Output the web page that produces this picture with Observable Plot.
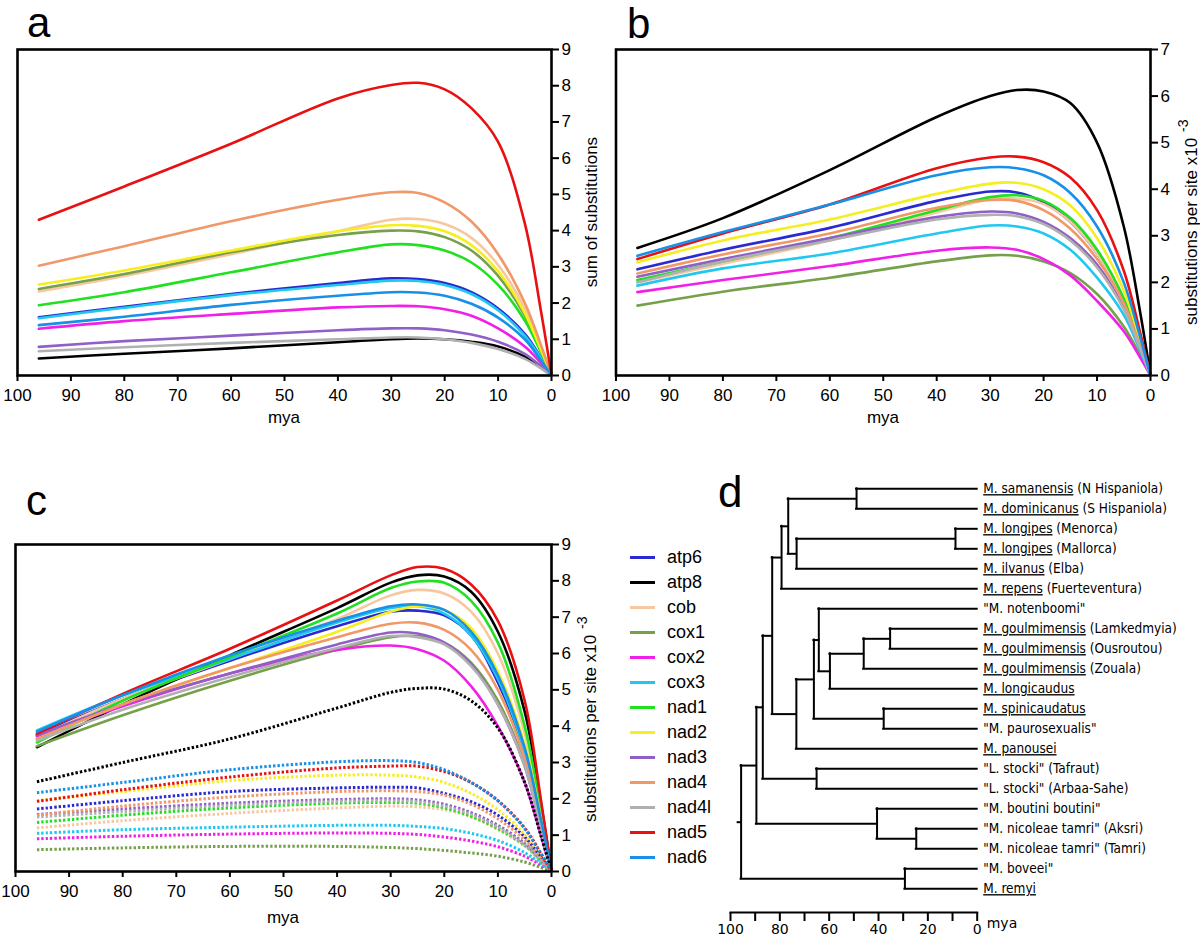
<!DOCTYPE html>
<html><head><meta charset="utf-8">
<script src="https://cdn.jsdelivr.net/npm/d3@7"></script>
<script src="https://cdn.jsdelivr.net/npm/@observablehq/plot@0.6"></script>
<style>
body{margin:0;background:#fff;}
#root{position:relative;width:1200px;height:937px;overflow:hidden;background:#fff;font-family:"Liberation Sans",Arial,sans-serif;}
.pnl{position:absolute;}
.letter{position:absolute;font-size:42px;line-height:42px;color:#000;}
#legend{position:absolute;left:630px;top:545px;}
#legend .row{height:25px;display:flex;align-items:center;font-size:18px;line-height:25px;}
#legend .sw{width:25px;height:3px;margin-right:12px;}
</style></head><body><div id="root"></div>
<script>
// ---------- data ----------
const mya = [96, 80, 60, 40, 30, 25, 20, 15, 10, 5, 2, 0];
const genes = ["atp6","atp8","cob","cox1","cox2","cox3","nad1","nad2","nad3","nad4","nad4l","nad5","nad6"];
const geneColors = ["#2a2ad0","#000000","#f7c89f","#76a04a","#f020e8","#20c8f0","#20e020","#f6ee1e","#9060c8","#f09868","#b0b0b0","#e81010","#1890e8"];
const xTicks = [100, 90, 80, 70, 60, 50, 40, 30, 20, 10, 0];
const yTicksA = [0,1,2,3,4,5,6,7,8,9];
const yTicksB = [0,1,2,3,4,5,6,7];
const yTicksC = [0,1,2,3,4,5,6,7,8,9];
const treeTicks = [100, 90, 80, 70, 60, 50, 40, 30, 20, 10, 0];
const panelLetters = ["a", "b", "c", "d"];

// panel a: sum of substitutions (gene order as in `genes`)
const panelA = [
  [1.61, 1.90, 2.25, 2.55, 2.68, 2.66, 2.55, 2.30, 1.85, 1.15, 0.50, 0],
  [0.47, 0.60, 0.75, 0.92, 1.00, 1.02, 1.00, 0.93, 0.80, 0.52, 0.22, 0],
  [2.32, 2.75, 3.35, 3.98, 4.30, 4.32, 4.18, 3.80, 3.05, 1.85, 0.78, 0],
  [2.39, 2.80, 3.40, 3.88, 4.00, 3.98, 3.82, 3.45, 2.75, 1.65, 0.70, 0],
  [1.29, 1.50, 1.70, 1.88, 1.92, 1.91, 1.83, 1.65, 1.30, 0.80, 0.35, 0],
  [1.58, 1.87, 2.22, 2.50, 2.62, 2.61, 2.50, 2.25, 1.80, 1.10, 0.48, 0],
  [1.94, 2.30, 2.85, 3.40, 3.62, 3.60, 3.45, 3.12, 2.50, 1.52, 0.65, 0],
  [2.51, 2.90, 3.45, 3.98, 4.15, 4.13, 3.98, 3.60, 2.88, 1.72, 0.72, 0],
  [0.79, 0.95, 1.10, 1.25, 1.30, 1.30, 1.25, 1.13, 0.93, 0.60, 0.26, 0],
  [3.03, 3.57, 4.26, 4.85, 5.06, 5.04, 4.78, 4.25, 3.35, 2.00, 0.85, 0],
  [0.67, 0.78, 0.90, 1.00, 1.05, 1.05, 1.00, 0.90, 0.73, 0.46, 0.20, 0],
  [4.30, 5.22, 6.40, 7.65, 8.02, 8.08, 7.90, 7.38, 6.45, 4.20, 1.80, 0],
  [1.39, 1.62, 1.95, 2.20, 2.30, 2.29, 2.20, 1.98, 1.60, 1.00, 0.42, 0]
];
// panel b: substitutions per site x10^-3
const panelB = [
  [2.28, 2.70, 3.17, 3.75, 3.95, 3.93, 3.72, 3.30, 2.62, 1.60, 0.68, 0],
  [2.74, 3.38, 4.41, 5.55, 6.00, 6.13, 6.10, 5.85, 5.00, 3.20, 1.40, 0],
  [2.00, 2.40, 2.90, 3.50, 3.78, 3.80, 3.68, 3.30, 2.62, 1.60, 0.68, 0],
  [1.50, 1.80, 2.10, 2.45, 2.58, 2.57, 2.45, 2.20, 1.75, 1.05, 0.45, 0],
  [1.79, 2.05, 2.35, 2.68, 2.75, 2.70, 2.50, 2.15, 1.60, 0.95, 0.40, 0],
  [1.93, 2.30, 2.62, 3.05, 3.22, 3.20, 3.05, 2.70, 2.10, 1.30, 0.55, 0],
  [2.05, 2.45, 2.95, 3.55, 3.83, 3.87, 3.75, 3.38, 2.70, 1.65, 0.70, 0],
  [2.43, 2.90, 3.35, 3.90, 4.12, 4.14, 4.00, 3.65, 2.95, 1.82, 0.77, 0],
  [2.12, 2.50, 2.95, 3.40, 3.52, 3.48, 3.30, 2.95, 2.38, 1.45, 0.62, 0],
  [2.19, 2.60, 3.05, 3.60, 3.77, 3.75, 3.55, 3.15, 2.50, 1.55, 0.65, 0],
  [2.00, 2.45, 2.90, 3.35, 3.45, 3.42, 3.25, 2.90, 2.32, 1.42, 0.60, 0],
  [2.50, 3.05, 3.67, 4.45, 4.68, 4.70, 4.58, 4.25, 3.55, 2.25, 0.95, 0],
  [2.57, 3.08, 3.67, 4.30, 4.47, 4.45, 4.30, 3.92, 3.20, 2.00, 0.85, 0]
];
// panel c: solid lines
const panelCsolid = [
  [3.75, 4.75, 5.80, 6.75, 7.15, 7.18, 7.05, 6.50, 5.20, 3.30, 1.40, 0],
  [3.42, 4.60, 5.95, 7.25, 7.95, 8.15, 8.12, 7.70, 6.60, 4.40, 1.90, 0],
  [3.70, 4.75, 5.85, 6.95, 7.60, 7.75, 7.65, 7.15, 6.00, 3.80, 1.60, 0],
  [3.45, 4.30, 5.25, 6.10, 6.45, 6.48, 6.30, 5.75, 4.70, 2.95, 1.25, 0],
  [3.72, 4.55, 5.45, 6.10, 6.22, 6.12, 5.80, 5.10, 4.00, 2.45, 1.00, 0],
  [3.88, 4.85, 5.85, 6.85, 7.25, 7.30, 7.10, 6.50, 5.30, 3.30, 1.40, 0],
  [3.55, 4.70, 5.90, 7.10, 7.80, 7.98, 7.95, 7.45, 6.30, 4.00, 1.70, 0],
  [3.65, 4.60, 5.60, 6.60, 7.15, 7.30, 7.20, 6.70, 5.50, 3.50, 1.50, 0],
  [3.75, 4.60, 5.45, 6.25, 6.58, 6.55, 6.30, 5.70, 4.60, 2.90, 1.20, 0],
  [3.65, 4.60, 5.60, 6.45, 6.82, 6.85, 6.65, 6.10, 5.00, 3.10, 1.30, 0],
  [3.60, 4.45, 5.35, 6.15, 6.48, 6.45, 6.25, 5.65, 4.60, 2.90, 1.20, 0],
  [3.79, 4.89, 6.13, 7.46, 8.15, 8.38, 8.33, 7.90, 6.90, 4.70, 2.00, 0],
  [3.85, 4.85, 5.95, 6.90, 7.30, 7.35, 7.20, 6.60, 5.40, 3.40, 1.45, 0]
];
// panel c: dotted lines
const panelCdotted = [
  [1.72, 1.95, 2.20, 2.30, 2.32, 2.30, 2.15, 1.92, 1.55, 0.95, 0.40, 0],
  [2.47, 3.00, 3.65, 4.50, 4.93, 5.04, 5.02, 4.70, 3.95, 2.45, 1.00, 0],
  [1.20, 1.40, 1.60, 1.75, 1.80, 1.78, 1.70, 1.50, 1.15, 0.70, 0.30, 0],
  [0.60, 0.65, 0.69, 0.69, 0.66, 0.63, 0.58, 0.51, 0.42, 0.26, 0.11, 0],
  [0.90, 0.97, 1.03, 1.06, 1.05, 1.02, 0.95, 0.84, 0.68, 0.42, 0.18, 0],
  [1.05, 1.15, 1.22, 1.27, 1.27, 1.24, 1.18, 1.05, 0.85, 0.52, 0.22, 0],
  [1.35, 1.55, 1.75, 1.88, 1.90, 1.88, 1.75, 1.52, 1.18, 0.72, 0.30, 0],
  [1.95, 2.20, 2.50, 2.65, 2.65, 2.60, 2.45, 2.15, 1.70, 1.02, 0.43, 0],
  [1.57, 1.72, 1.88, 1.98, 2.00, 1.97, 1.85, 1.62, 1.27, 0.77, 0.32, 0],
  [1.55, 1.80, 2.05, 2.20, 2.22, 2.20, 2.10, 1.85, 1.45, 0.87, 0.36, 0],
  [1.50, 1.65, 1.82, 1.93, 1.95, 1.92, 1.80, 1.57, 1.22, 0.73, 0.30, 0],
  [1.93, 2.25, 2.60, 2.85, 2.90, 2.90, 2.75, 2.45, 1.95, 1.20, 0.50, 0],
  [2.17, 2.45, 2.80, 3.02, 3.05, 3.00, 2.80, 2.45, 1.95, 1.18, 0.50, 0]
];

// tree (panel d): internal nodes with parent and age (mya)
const nodeIds    = ["root","A","B","C","D","F","SD","G","LP","E","H","I","J","K","L","SP","ST","BG","NT","BR"];
const nodeParent = [null,"root","A","B","C","D","F","F","G","C","E","H","I","J","K","H","B","A","BG","root"];
const nodeAge    = [95.7, 89.5, 86.9, 83.1, 79.3, 76.6, 48.9, 73.2, 8.8, 73.3, 66.2, 64.2, 59.7, 46.0, 35.3, 37.9, 65.1, 40.6, 24.7, 29.3];
const rootStemAge = 96.9;
const leafNames = ["M. samanensis","M. dominicanus","M. longipes","M. longipes","M. ilvanus","M. repens",
  "\"M. notenboomi\"","M. goulmimensis","M. goulmimensis","M. goulmimensis","M. longicaudus","M. spinicaudatus",
  "\"M. paurosexualis\"","M. panousei","\"L. stocki\"","\"L. stocki\"","\"M. boutini boutini\"",
  "\"M. nicoleae tamri\"","\"M. nicoleae tamri\"","\"M. boveei\"","M. remyi"];
const leafSuffix = [" (N Hispaniola)"," (S Hispaniola)"," (Menorca)"," (Mallorca)"," (Elba)"," (Fuerteventura)",
  ""," (Lamkedmyia)"," (Ousroutou)"," (Zouala)","","","","",
  " (Tafraut)"," (Arbaa-Sahe)",""," (Aksri)"," (Tamri)","",""];
const leafUnderline = [true,true,true,true,true,true,false,true,true,true,true,true,false,true,false,false,false,false,false,false,true];
const leafParent = ["SD","SD","LP","LP","G","D","I","L","L","K","J","SP","SP","E","ST","ST","BG","NT","NT","BR","BR"];

// ---------- helpers ----------
const root = document.getElementById("root");
const SANS = "'Liberation Sans', Arial, sans-serif";

function rows(values) {
  return genes.flatMap((g, i) => mya.map((m, j) => ({gene: g, mya: m, value: values[i][j]})));
}

function place(el, left, top) {
  el.classList.add("pnl");
  el.style.left = left + "px";
  el.style.top = top + "px";
  root.appendChild(el);
}

function letter(txt, left, top, size) {
  d3.select(root).append("div").attr("class", "letter")
    .style("left", left + "px").style("top", top + "px")
    .style("font-size", size + "px").style("line-height", size + "px").text(txt);
}

function addText(svg, attrs, txt, size) {
  const t = d3.select(svg).append("text").attr("fill", "#000").attr("text-anchor", "start")
    .style("font-family", SANS).style("font-size", (size || 17) + "px");
  for (const k in attrs) t.attr(k, attrs[k]);
  t.text(txt);
  return t;
}

function curvePanel(opts) {
  const marks = [
    Plot.axisX({ticks: xTicks, tickFormat: d => String(d), tickSize: 6, tickPadding: 7, strokeWidth: 2, fontSize: 17, label: null}),
    Plot.axisY({anchor: "right", ticks: opts.yTicks, tickFormat: d => String(d), tickSize: 7, tickPadding: 3, strokeWidth: 2, fontSize: 17, label: null}),
  ];
  for (const L of opts.lines) {
    marks.push(Plot.line(rows(L.values), L.dotted ? {
      x: "mya", y: "value", z: "gene", stroke: "gene", curve: "catmull-rom",
      strokeWidth: 3, strokeDasharray: "2.4,2", strokeLinecap: "butt"
    } : {
      x: "mya", y: "value", z: "gene", stroke: "gene", curve: "catmull-rom", strokeWidth: 2.6
    }));
  }
  marks.push(Plot.frame({stroke: "#000", strokeWidth: 2.6}));
  return Plot.plot({
    width: opts.width, height: opts.height,
    marginLeft: opts.ml, marginRight: opts.mr, marginTop: opts.mt, marginBottom: opts.mb,
    x: {domain: [100, 0]},
    y: {domain: [0, opts.yMax]},
    color: {domain: genes, range: geneColors},
    style: {fontFamily: SANS, fontSize: "17px", color: "#000", background: "transparent", overflow: "visible"},
    marks
  });
}

// ---------- panel a ----------
const pa = curvePanel({width: 600, height: 430, ml: 17, mr: 49, mt: 49, mb: 55, yMax: 9, yTicks: yTicksA,
  lines: [{values: panelA}]});
addText(pa, {x: 284, y: 423, "text-anchor": "middle"}, "mya", 17);
addText(pa, {transform: "translate(597,212) rotate(-90)", "text-anchor": "middle"}, "sum of substitutions", 17);
place(pa, 0, 0);

// ---------- panel b ----------
const pb = curvePanel({width: 600, height: 430, ml: 15.5, mr: 50, mt: 49, mb: 55, yMax: 7, yTicks: yTicksB,
  lines: [{values: panelB}]});
addText(pb, {x: 283, y: 423, "text-anchor": "middle"}, "mya", 17);
{
  const t = addText(pb, {transform: "translate(597,325) rotate(-90)"}, "substitutions per site x10", 17);
  t.append("tspan").attr("dx", 6).attr("dy", -9).style("font-size", "14px").text("-3");
}
place(pb, 600, 0);

// ---------- panel c ----------
const pc = curvePanel({width: 600, height: 497, ml: 15, mr: 49, mt: 104, mb: 66, yMax: 9, yTicks: yTicksC,
  lines: [{values: panelCsolid}, {values: panelCdotted, dotted: true}]});
addText(pc, {x: 283, y: 483, "text-anchor": "middle"}, "mya", 17);
{
  const t = addText(pc, {transform: "translate(596,382) rotate(-90)"}, "substitutions per site x10", 17);
  t.append("tspan").attr("dx", 6).attr("dy", -9).style("font-size", "14px").text("-3");
}
place(pc, 0, 440);

// ---------- legend ----------
const lg = d3.select(root).append("div").attr("id", "legend");
genes.forEach((g, i) => {
  const r = lg.append("div").attr("class", "row");
  r.append("div").attr("class", "sw").style("background", geneColors[i]);
  r.append("span").text(g);
});

// ---------- panel d: tree ----------
const nodes = new Map();
nodeIds.forEach((id, i) => nodes.set(id, {id, parent: nodeParent[i], age: nodeAge[i], children: []}));
const leaves = leafNames.map((n, i) => ({id: "leaf" + i, name: n, suffix: leafSuffix[i], underline: leafUnderline[i],
  parent: leafParent[i], age: 0, y: i, children: []}));
for (const n of nodes.values()) if (n.parent) nodes.get(n.parent).children.push(n);
for (const l of leaves) nodes.get(l.parent).children.push(l);
function layoutY(n) {
  if (!n.children.length) return n.y;
  n.y = d3.mean(n.children, layoutY);
  return n.y;
}
layoutY(nodes.get("root"));
const all = [...nodes.values(), ...leaves];
const hBranches = all.map(n => ({y: n.y, x1: n.parent ? nodes.get(n.parent).age : rootStemAge, x2: n.age}));
const vBranches = [...nodes.values()].map(n => ({x: n.age, y1: d3.min(n.children, c => c.y), y2: d3.max(n.children, c => c.y)}));

const pd = Plot.plot({
  width: 500, height: 477,
  marginLeft: 30, marginRight: 223.3, marginTop: 28.3, marginBottom: 25, insetBottom: 23.7,
  x: {domain: [100, 0]},
  y: {domain: [0, leafNames.length - 1], reverse: true, axis: null},
  style: {fontFamily: "'DejaVu Sans', sans-serif", fontSize: "14px", color: "#000", background: "transparent", overflow: "visible"},
  marks: [
    Plot.frame({anchor: "bottom", stroke: "#000", strokeWidth: 2}),
    Plot.axisX({ticks: treeTicks, tickFormat: d => d % 20 === 0 ? String(d) : "", tickSize: 9, tickPadding: 3, strokeWidth: 2, label: null}),
    Plot.ruleY(hBranches, {y: "y", x1: "x1", x2: "x2", stroke: "#000", strokeWidth: 2, strokeLinecap: "square"}),
    Plot.ruleX(vBranches, {x: "x", y1: "y1", y2: "y2", stroke: "#000", strokeWidth: 2, strokeLinecap: "square"}),
    Plot.text(leaves, {x: "age", y: "y", text: d => d.name + d.suffix, textAnchor: "start", dx: 6,
      fontFamily: "'DejaVu Sans Condensed', 'DejaVu Sans', sans-serif", fontSize: 13.5})
  ]
});
d3.select(pd).selectAll('g[aria-label="text"] text').each(function(_, i) {
  const d = leaves[i];
  const t = d3.select(this);
  t.text(null);
  t.append("tspan").style("text-decoration", d.underline ? "underline" : "none").text(d.name);
  if (d.suffix) t.append("tspan").text(d.suffix);
});
d3.select(pd).append("text").attr("x", 302).attr("y", 468).attr("text-anchor", "middle")
  .style("font-family", "'DejaVu Sans', sans-serif").style("font-size", "14px").text("mya");
place(pd, 700, 460);

// ---------- panel letters ----------
letter(panelLetters[0], 27, 2, 42);
letter(panelLetters[1], 627, 3, 42);
letter(panelLetters[2], 26, 480, 42);
letter(panelLetters[3], 718, 470, 44);
</script></body></html>
